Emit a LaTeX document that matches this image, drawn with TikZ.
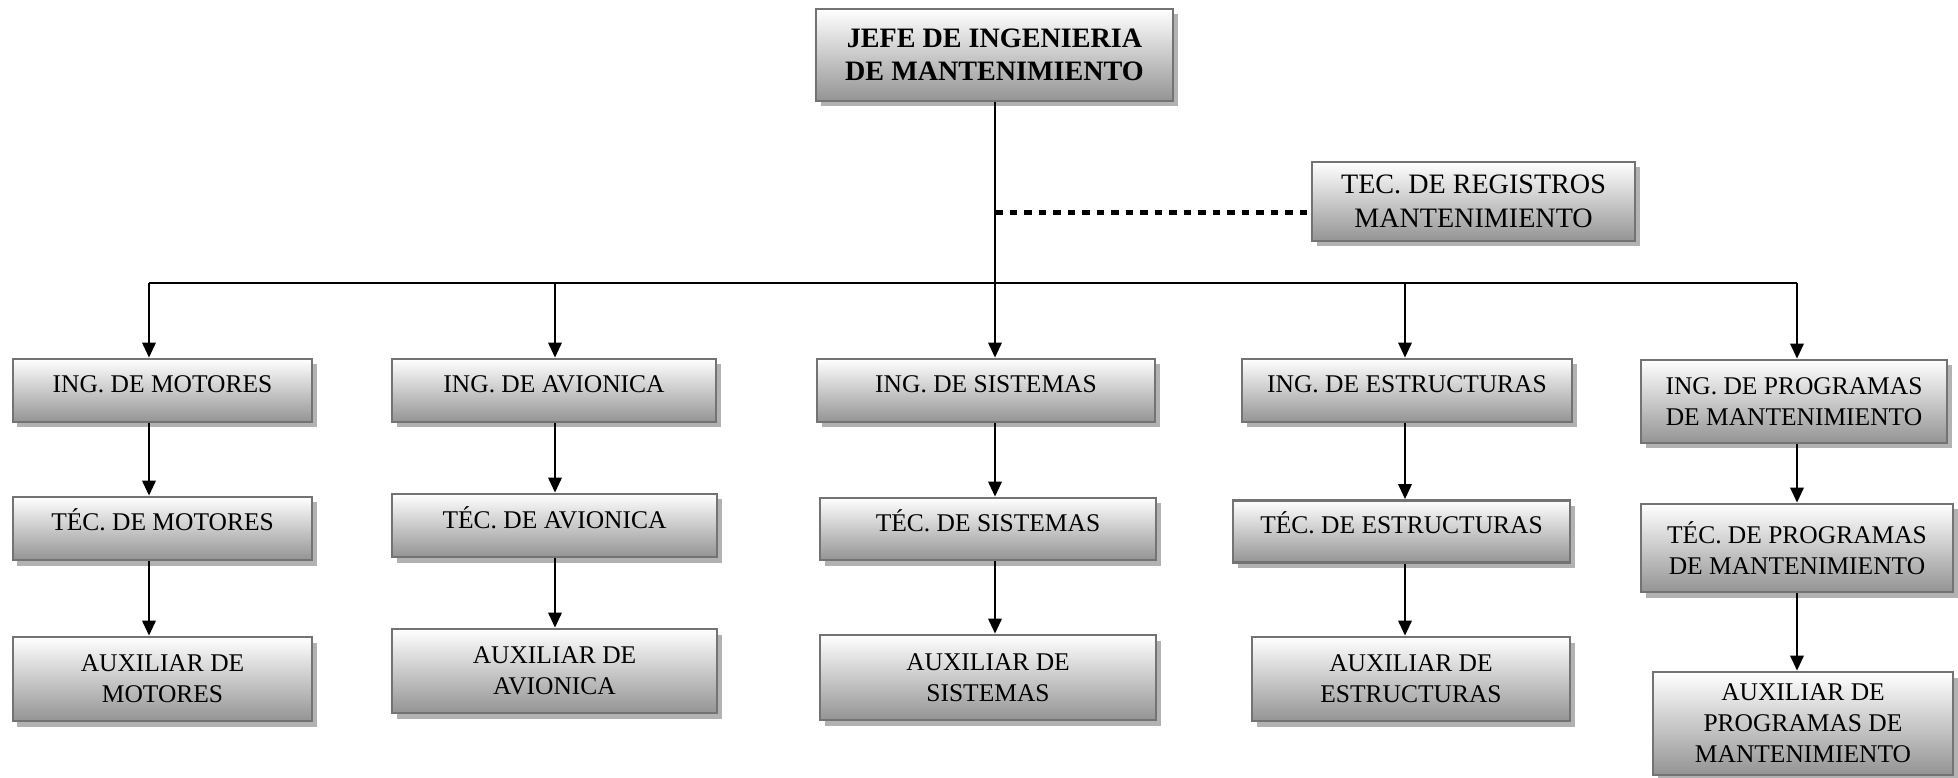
\documentclass[tikz,border=0pt]{standalone}
\usepackage{fontspec}
\setmainfont{Liberation Serif}
\usetikzlibrary{shadows}
\usetikzlibrary{arrows.meta}
\tikzset{
	caja/.style = {rectangle, align=center, inner sep=0pt, draw=black!55,
		line width=1.6pt, top color=white, bottom color=black!42,
		drop shadow={shadow xshift=0.9mm, shadow yshift=-1.1mm,
			fill=black!30, opacity=1},
		font=\fontsize{14.5}{17.6}\selectfont},% caja del organigrama
	caja1/.style = {caja, text height=3.4mm, text depth=2.4mm},% caja de una linea
	jefe/.style = {caja, font=\fontsize{16}{19}\selectfont\bfseries},% caja del jefe
	flecha/.style = {-{Triangle[length=3mm,width=2.7mm]}, line width=1.1pt},
	linea/.style = {line width=1.1pt},
	staff/.style = {line width=1mm, dash pattern=on 1.5mm off 1.4mm}% linea de apoyo
}
\begin{document}
\begin{tikzpicture}[x=0.2mm,y=-0.2mm]
	\useasboundingbox (0,0) rectangle (1958,778);
	% cabeza y apoyo
	\node[jefe, minimum width=71.4mm, minimum height=18.4mm] (jefe) at (994.5,55)
		{JEFE DE INGENIERIA\\DE MANTENIMIENTO};
	\node[caja, font=\fontsize{16}{19}\selectfont, minimum width=64.6mm,
		minimum height=15.8mm] (reg) at (1473.5,201.5)
		{TEC. DE REGISTROS\\MANTENIMIENTO};
	% primera fila
	\node[caja1, minimum width=59.8mm, minimum height=12.6mm] (ingMot) at (162.5,390.5) {ING. DE MOTORES};
	\node[caja1, minimum width=64.8mm, minimum height=12.6mm] (ingAvi) at (554,390.5) {ING. DE AVIONICA};
	\node[caja1, minimum width=67.6mm, minimum height=12.6mm] (ingSis) at (986,390.5) {ING. DE SISTEMAS};
	\node[caja1, minimum width=66mm, minimum height=12.6mm] (ingEst) at (1407,390.5) {ING. DE ESTRUCTURAS};
	\node[caja, minimum width=61.2mm, minimum height=16.6mm] (ingPro) at (1794,401.5)
		{ING. DE PROGRAMAS\\DE MANTENIMIENTO};
	% segunda fila
	\node[caja1, minimum width=59.8mm, minimum height=12.6mm] (tecMot) at (162.5,528.5) {TÉC. DE MOTORES};
	\node[caja1, minimum width=65mm, minimum height=12.6mm] (tecAvi) at (554.5,525.5) {TÉC. DE AVIONICA};
	\node[caja1, minimum width=67.2mm, minimum height=12.4mm] (tecSis) at (988,529) {TÉC. DE SISTEMAS};
	\node[caja1, minimum width=67.4mm, minimum height=12.4mm] (tecEst) at (1401.5,531.5) {TÉC. DE ESTRUCTURAS};
	\node[caja, minimum width=62.4mm, minimum height=17.6mm] (tecPro) at (1797,548)
		{TÉC. DE PROGRAMAS\\DE MANTENIMIENTO};
	% tercera fila
	\node[caja, minimum width=59.8mm, minimum height=16.8mm] (auxMot) at (162.5,679) {AUXILIAR DE\\MOTORES};
	\node[caja, minimum width=65mm, minimum height=16.8mm] (auxAvi) at (554.5,671) {AUXILIAR DE\\AVIONICA};
	\node[caja, minimum width=67.2mm, minimum height=17mm] (auxSis) at (988,677.5) {AUXILIAR DE\\SISTEMAS};
	\node[caja, minimum width=63.6mm, minimum height=16.8mm] (auxEst) at (1411,679) {AUXILIAR DE\\ESTRUCTURAS};
	\node[caja, minimum width=60mm, minimum height=20.6mm] (auxPro) at (1803,723.5)
		{AUXILIAR DE\\PROGRAMAS DE\\MANTENIMIENTO};
	% puntos del bus
	\coordinate (b1) at (149,283);
	\coordinate (b2) at (555,283);
	\coordinate (b3) at (995,283);
	\coordinate (b4) at (1405,283);
	\coordinate (b5) at (1797,283);
	\coordinate (apoyo) at (995,213);
	\draw[linea] (jefe.south -| b3) -- (b3);
	\draw[linea] (b1) -- (b5);
	\draw[staff] (apoyo) -- (apoyo -| reg.west);
	% flechas
	\draw[flecha] (b1) -- (b1 |- ingMot.north);
	\draw[flecha] (b2) -- (b2 |- ingAvi.north);
	\draw[flecha] (b3) -- (b3 |- ingSis.north);
	\draw[flecha] (b4) -- (b4 |- ingEst.north);
	\draw[flecha] (b5) -- (b5 |- ingPro.north);
	\draw[flecha] (b1 |- ingMot.south) -- (b1 |- tecMot.north);
	\draw[flecha] (b2 |- ingAvi.south) -- (b2 |- tecAvi.north);
	\draw[flecha] (b3 |- ingSis.south) -- (b3 |- tecSis.north);
	\draw[flecha] (b4 |- ingEst.south) -- (b4 |- tecEst.north);
	\draw[flecha] (b5 |- ingPro.south) -- (b5 |- tecPro.north);
	\draw[flecha] (b1 |- tecMot.south) -- (b1 |- auxMot.north);
	\draw[flecha] (b2 |- tecAvi.south) -- (b2 |- auxAvi.north);
	\draw[flecha] (b3 |- tecSis.south) -- (b3 |- auxSis.north);
	\draw[flecha] (b4 |- tecEst.south) -- (b4 |- auxEst.north);
	\draw[flecha] (b5 |- tecPro.south) -- (b5 |- auxPro.north);
\end{tikzpicture}
\end{document}
